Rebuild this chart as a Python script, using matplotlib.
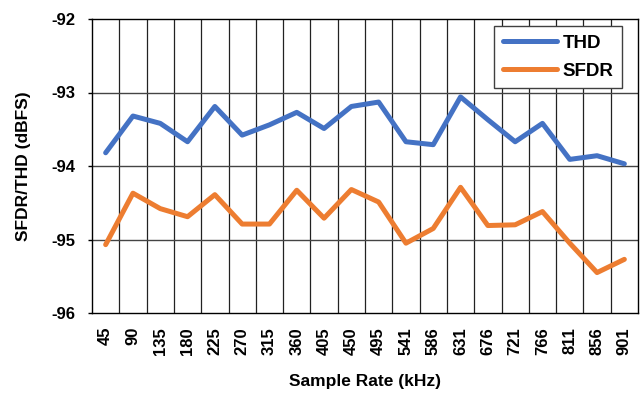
import matplotlib.pyplot as plt
import numpy as np

# frequenze di campionamento (kHz) e valori
rates = ['45', '90', '135', '180', '225', '270', '315', '360', '405', '450',
         '495', '541', '586', '631', '676', '721', '766', '811', '856', '901']
thd = [-93.82, -93.32, -93.42, -93.67, -93.19, -93.58, -93.44, -93.27, -93.49, -93.19,
       -93.13, -93.67, -93.71, -93.06, -93.37, -93.67, -93.42, -93.91, -93.86, -93.97]
sfdr = [-95.07, -94.37, -94.58, -94.69, -94.39, -94.79, -94.79, -94.33, -94.71, -94.32,
        -94.49, -95.05, -94.85, -94.29, -94.81, -94.80, -94.62, -95.05, -95.45, -95.27]

plt.rcParams['font.family'] = ['Liberation Sans', 'DejaVu Sans']
plt.rcParams['font.weight'] = 'bold'

fig = plt.figure(figsize=(6.43, 3.96), dpi=100)
ax = fig.add_axes([92 / 643, 83 / 396, 546 / 643, 294 / 396])

x = np.arange(len(rates))
ax.plot(x, thd, color='#4472C4', lw=3.6, label='THD', solid_capstyle='round', zorder=3)
ax.plot(x, sfdr, color='#ED7D31', lw=3.6, label='SFDR', solid_capstyle='round', zorder=3)

ax.set_xlim(-0.5, len(rates) - 0.5)
ax.set_ylim(-96, -92)
ax.set_yticks([-96, -95, -94, -93, -92])
ax.set_yticklabels(['-96', '-95', '-94', '-93', '-92'], fontsize=12, fontweight='bold')
ax.set_xticks(x)
ax.set_xticklabels(rates, rotation=90, fontsize=12, fontweight='bold')
ax.tick_params(axis='x', length=0, pad=10)
ax.tick_params(axis='y', length=3, width=1, direction='out', pad=9)

# griglia verticale ai bordi delle categorie
for b in np.arange(0.5, len(rates) - 0.5, 1):
    ax.axvline(b, color='#222222', lw=0.9, zorder=1)
for yy in [-95, -94, -93]:
    ax.axhline(yy, color='#444444', lw=1.0, zorder=1)

for s in ax.spines.values():
    s.set_color('black')
    s.set_linewidth(1.0)

ax.set_xlabel('Sample Rate (kHz)', fontsize=12.5, fontweight='bold', labelpad=14)
ax.set_ylabel('SFDR/THD (dBFS)', fontsize=12.5, fontweight='bold', labelpad=15)

leg = ax.legend(loc='upper right', bbox_to_anchor=(530 / 546, 287 / 294), fancybox=False,
                framealpha=1, edgecolor='#404040', fontsize=13.5, handlelength=2.9,
                borderpad=0.45, labelspacing=0.6, handletextpad=0.3, borderaxespad=0)
leg.get_frame().set_linewidth(1.0)
leg.set_zorder(5)

fig.savefig('out.png', dpi=100)
